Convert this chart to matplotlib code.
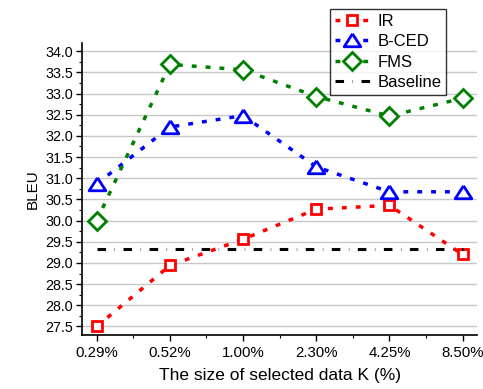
import matplotlib
matplotlib.use("Agg")
import matplotlib.pyplot as plt
from matplotlib.ticker import MultipleLocator, FormatStrFormatter

categories = ["0.29%", "0.52%", "1.00%", "2.30%", "4.25%", "8.50%"]
ir = [27.5, 28.94, 29.56, 30.27, 30.36, 29.2]
bced = [30.87, 32.21, 32.48, 31.27, 30.68, 30.68]
fms = [30.0, 33.69, 33.56, 32.93, 32.47, 32.89]
baseline = 29.33

plt.rcParams['font.family'] = ['Liberation Sans', 'DejaVu Sans']

fig = plt.figure(figsize=(4.83, 3.89), dpi=100)
ax = fig.add_axes([0.170, 0.139, 0.818, 0.750])

x = list(range(len(categories)))
ax.set_xlim(-0.2, 5.2)
ax.set_ylim(27.3, 34.19)

ax.yaxis.set_major_locator(MultipleLocator(0.5))
ax.yaxis.set_minor_locator(MultipleLocator(0.25))
ax.set_xticks(x)
ax.set_xticklabels(categories)
ax.set_xticks([i + 0.5 for i in x[:-1]], minor=True)
ax.yaxis.set_major_formatter(FormatStrFormatter('%.1f'))

ax.grid(axis='y', which='major', color='#c8c8c8', linewidth=1.0)
ax.set_axisbelow(True)
for s in ['top', 'right']:
    ax.spines[s].set_visible(False)
for s in ['left', 'bottom']:
    ax.spines[s].set_linewidth(1.2)

ax.tick_params(axis='y', which='major', direction='out', length=4, width=1, labelsize=10.3, pad=2.5)
ax.tick_params(axis='x', which='major', direction='out', length=4, width=1, labelsize=10.8, pad=4)
ax.tick_params(axis='both', which='minor', direction='out', length=2.5, width=0.8)

lw = 2.5
dot = (0, (1.4, 2.6))
tri = [(0, 0.8), (-1, -0.75), (1, -0.75), (0, 0.8)]
ax.plot(x, ir, color='#ff0000', linestyle=dot, linewidth=lw, marker='s', label='IR',
        markersize=7.8, markeredgewidth=2, markerfacecolor='white')
ax.plot(x, bced, color='#0000ff', linestyle=dot, linewidth=lw, marker=tri, label='B-CED',
        markersize=12, markeredgewidth=2, markerfacecolor='white')
ax.plot(x, fms, color='#008000', linestyle=dot, linewidth=lw, marker='D', label='FMS',
        markersize=9.5, markeredgewidth=2, markerfacecolor='white')
ax.plot([x[0], x[-1]], [baseline, baseline], color='black',
        linestyle=(0, (2.8, 2.8, 0.12, 2.8)), linewidth=2.2, label='Baseline')

ax.set_ylabel('BLEU', fontsize=11)
ax.set_xlabel('The size of selected data K (%)', fontsize=12.5)
ax.xaxis.labelpad = 6

leg = fig.legend(loc='upper left', bbox_to_anchor=(0.683, 0.977), bbox_transform=fig.transFigure,
                 fontsize=12, frameon=True, fancybox=False, handlelength=2.1,
                 borderpad=0.3, labelspacing=0.32, handletextpad=0.45, borderaxespad=0)
leg.get_frame().set_edgecolor('black')
leg.get_frame().set_linewidth(1.0)

fig.savefig('out.png', dpi=100)
